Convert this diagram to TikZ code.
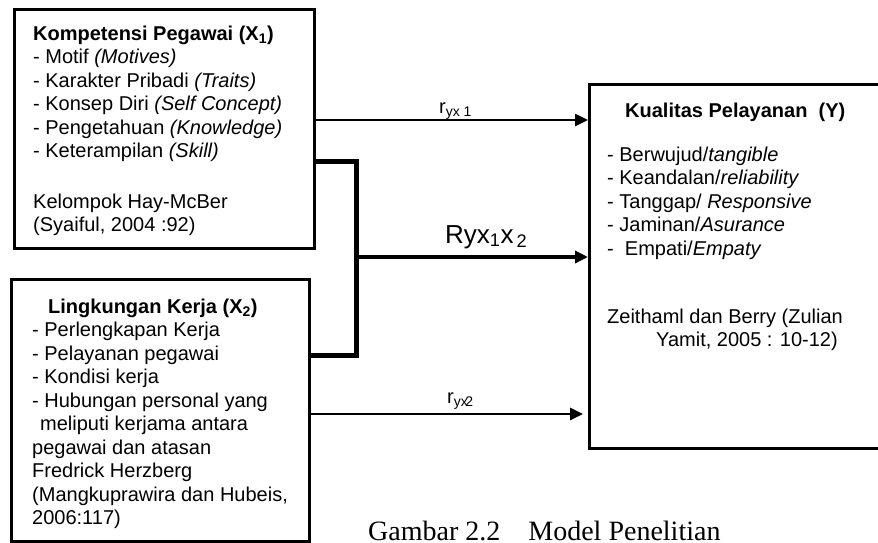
\documentclass[tikz,border=0pt]{standalone}
\usepackage{fontspec}
\setmainfont{Liberation Sans}
\newfontfamily\capfont{Liberation Serif}
\usetikzlibrary{arrows.meta}
\tikzset{
  box/.style={draw, line width=3pt, anchor=north west, inner sep=0pt},
  txt/.style={anchor=base west, align=left, inner sep=0pt, font=\fontsize{20}{23.5}\selectfont},
  lab/.style={anchor=base west, inner sep=0pt, font=\fontsize{20}{24}\selectfont},
  bracket/.style={line width=5pt, line cap=round},
  arr/.style={-{Triangle[length=13pt,width=12pt]}},
}
\begin{document}
\begin{tikzpicture}[x=1pt,y=1pt]
\useasboundingbox[fill=white] (0,0) rectangle (878,-542);
% boxes
\node[box, minimum width=300pt, minimum height=239pt] (x1) at (13,-8) {};
\node[box, minimum width=298pt, minimum height=262pt] (x2) at (10,-278) {};
\node[box, minimum width=300pt, minimum height=364pt] (y) at (588,-83) {};
% texts (anchored at the baseline of their last line)
\node[txt] (t1) at (33,-231.5) {\textbf{Kompetensi Pegawai (X\textsubscript{1})}\\
- Motif \textit{(Motives)}\\
- Karakter Pribadi \textit{(Traits)}\\
- Konsep Diri \textit{(Self Concept)}\\
- Pengetahuan \textit{(Knowledge)}\\
- Keterampilan \textit{(Skill)}\\[27pt]
Kelompok Hay-McBer\\
(Syaiful, 2004 :92)};
\node[txt] (t2) at (32,-524.5) {\hspace*{16pt}\textbf{Lingkungan Kerja (X\textsubscript{2})}\\
- Perlengkapan Kerja\\
- Pelayanan pegawai\\
- Kondisi kerja\\
- Hubungan personal yang\\
\hspace*{8pt}meliputi kerjama antara\\
pegawai dan atasan\\
Fredrick Herzberg\\
(Mangkuprawira dan Hubeis,\\
2006:117)};
\node[txt] (t3) at (625,-117) {\textbf{Kualitas Pelayanan\ \ (Y)}};
\node[txt] (t4) at (607,-346.5) {- Berwujud/\textit{tangible}\\
- Keandalan/\textit{reliability}\\
- Tanggap/ \textit{Responsive}\\
- Jaminan/\textit{Asurance}\\
-\ \ Empati/\textit{Empaty}\\[44.5pt]
Zeithaml dan Berry (Zulian\\
\hspace*{49pt}Yamit, 2005 : 10-12)};
% labels
\node[lab] (l1) at (439,-113) {r\textsubscript{yx 1}};
\node[lab, font=\fontsize{26}{30}\selectfont] (l2) at (445,-243) {Ryx\textsubscript{1}x\textsubscript{\,2}};
\node[lab] (l3) at (447,-403) {r\textsubscript{yx\kern-2.5pt 2}};
% bracket
\coordinate (j1) at (356,-161);
\coordinate (j2) at (356,-355);
\coordinate (jm) at (356,-257);
\draw[bracket] (x1.east |- j1) -- (j1) -- (j2) -- (x2.east |- j2);
% arrows
\draw[arr, line width=2.5pt] (x1.east |- 0,-120) -- (y.west |- 0,-120);
\draw[arr, line width=3.5pt] (jm) -- (y.west |- jm);
\draw[arr, line width=2.8pt, shorten >=5pt] (x2.east |- 0,-414) -- (y.west |- 0,-414);
% caption
\node[anchor=base west, inner sep=0pt, font=\capfont\fontsize{28}{32}\selectfont] (cap) at (368,-540) {Gambar 2.2\hspace{1em}Model Penelitian};
\end{tikzpicture}
\end{document}
